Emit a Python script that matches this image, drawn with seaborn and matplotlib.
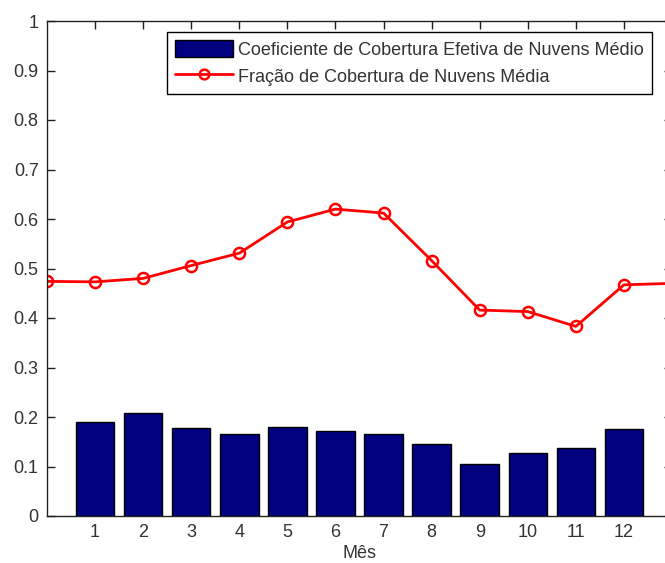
import numpy as np
import matplotlib
matplotlib.use("Agg")
import matplotlib.pyplot as plt
import seaborn as sns
import pandas as pd
from matplotlib.patches import Patch
from matplotlib.lines import Line2D

# bar data (months 1..12)
meses = [1, 2, 3, 4, 5, 6, 7, 8, 9, 10, 11, 12]
coef_efetivo = [0.189, 0.209, 0.177, 0.166, 0.180, 0.171, 0.166, 0.146, 0.105, 0.128, 0.137, 0.175]

# line data (includes wrap-around points 0 and 13)
meses_linha = [0, 1, 2, 3, 4, 5, 6, 7, 8, 9, 10, 11, 12, 13]
fracao_media = [0.474, 0.473, 0.480, 0.506, 0.531, 0.594, 0.620, 0.612, 0.516, 0.416, 0.413, 0.383, 0.467, 0.470]

yticks = [0, 0.1, 0.2, 0.3, 0.4, 0.5, 0.6, 0.7, 0.8, 0.9, 1]
ytick_labels = ["0", "0.1", "0.2", "0.3", "0.4", "0.5", "0.6", "0.7", "0.8", "0.9", "1"]

sns.set_style("ticks")
plt.rcParams['font.family'] = ['Liberation Sans', 'DejaVu Sans']
plt.rcParams['font.size'] = 13

W, H = 665, 563
fig = plt.figure(figsize=(W/100, H/100), dpi=100, facecolor='w')
ax = fig.add_axes([47/W, 1 - 516/H, 625/W, 495/H])

df_bar = pd.DataFrame({"Mes": meses, "Coef": coef_efetivo})
df_line = pd.DataFrame({"Mes": meses_linha, "Frac": fracao_media})

sns.barplot(data=df_bar, x="Mes", y="Coef", native_scale=True, width=0.8,
            color='#000080', saturation=1, edgecolor='k', linewidth=1, ax=ax)
sns.lineplot(data=df_line, x="Mes", y="Frac", color='red', lw=2, marker='o',
             markersize=8, markerfacecolor='none', markeredgecolor='red',
             markeredgewidth=1.8, ax=ax)

ax.set_xlim(0, 13)
ax.set_ylim(0, 1)
ax.set_xticks(meses)
ax.set_xticklabels([str(m) for m in meses])
ax.set_yticks(yticks)
ax.set_yticklabels(ytick_labels)
ax.set_xlabel('Mês', labelpad=3, color='#333333')
ax.set_ylabel('')
ax.tick_params(direction='in', top=True, right=True, length=6, width=1, pad=6,
               colors='#222222', labelcolor='#333333')
for s in ax.spines.values():
    s.set_linewidth(1)
    s.set_color('#222222')

handles = [Patch(facecolor='#000080', edgecolor='k'),
           Line2D([], [], color='red', lw=2, marker='o', markersize=7,
                  markerfacecolor='none', markeredgecolor='red', markeredgewidth=1.8)]
leg = ax.legend(handles, ['Coeficiente de Cobertura Efetiva de Nuvens Médio',
                          'Fração de Cobertura de Nuvens Média'],
                loc='upper left', bbox_to_anchor=(120/625, 1 - 11/495),
                fancybox=False, framealpha=1, edgecolor='k', borderpad=0.45,
                handlelength=3.2, handleheight=1.1, handletextpad=0.3,
                labelspacing=0.45, borderaxespad=0)
leg.get_frame().set_linewidth(1)
for t in leg.get_texts():
    t.set_color('#333333')

fig.savefig('out.png', dpi=100)
